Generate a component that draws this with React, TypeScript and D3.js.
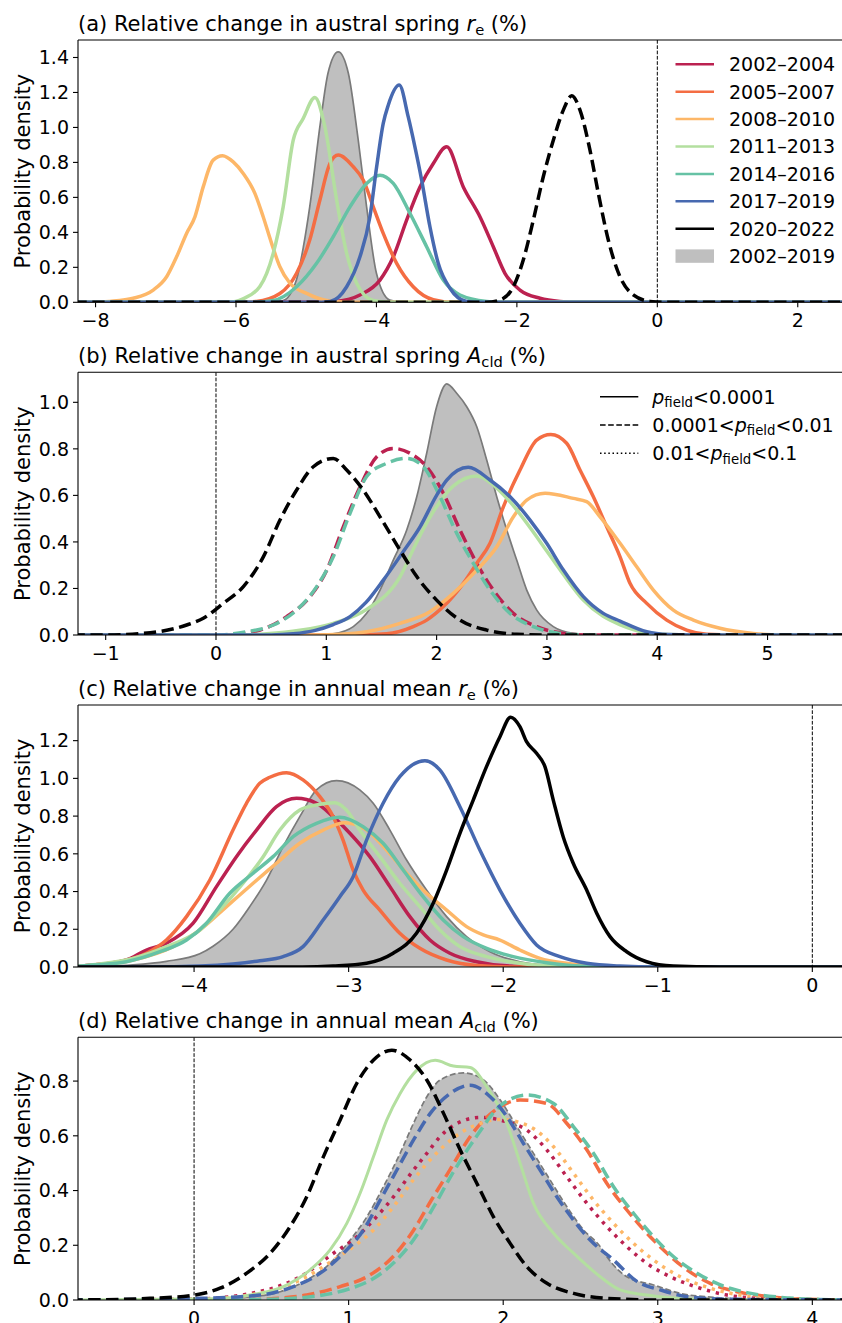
import React from "react";
import * as d3 from "d3";

type P = [number, number][];

const periods = ["2002–2004", "2005–2007", "2008–2010", "2011–2013", "2014–2016", "2017–2019", "2020–2022"];
const colors = ["#bb2150", "#f46d43", "#fdb768", "#b3df9f", "#66c2a5", "#4769b0", "#000000"];
const allPeriodLabel = "2002–2019";

// ---------- panel (a): austral spring r_e ----------
const aXTicks = [-8, -6, -4, -2, 0, 2];
const aYTicks = [0, 0.2, 0.4, 0.6, 0.8, 1.0, 1.2, 1.4];
const aStyles = ["solid", "solid", "solid", "solid", "solid", "solid", "dashed"];
const a2002: P = [[-8.3,0],[-4.8,0],[-4.57,0.005],[-4.235,0.042],[-3.95,0.127],[-3.76,0.26],[-3.57,0.47],[-3.38,0.66],[-3.19,0.794],[-3.0,0.889],[-2.763,0.66],[-2.526,0.489],[-2.336,0.318],[-2.17,0.166],[-1.956,0.07],[-1.671,0.023],[-1.386,0.005],[-1.1,0],[2.7,0]];
const a2005: P = [[-8.3,0],[-6.0,0],[-5.71,0.005],[-5.375,0.05],[-5.137,0.166],[-4.95,0.356],[-4.805,0.585],[-4.662,0.794],[-4.544,0.842],[-4.33,0.775],[-4.188,0.699],[-4.045,0.546],[-3.903,0.394],[-3.712,0.223],[-3.476,0.089],[-3.19,0.015],[-2.9,0],[2.7,0]];
const a2008: P = [[-8.3,0],[-8.0,0],[-7.796,0.005],[-7.464,0.023],[-7.179,0.07],[-6.988,0.146],[-6.846,0.26],[-6.704,0.394],[-6.585,0.489],[-6.467,0.66],[-6.325,0.813],[-6.191,0.838],[-6.04,0.803],[-5.897,0.737],[-5.731,0.623],[-5.613,0.489],[-5.493,0.337],[-5.375,0.203],[-5.232,0.109],[-4.994,0.051],[-4.71,0.01],[-4.4,0],[2.7,0]];
const a2011: P = [[-8.3,0],[-6.1,0],[-5.9,0.02],[-5.66,0.09],[-5.47,0.28],[-5.328,0.546],[-5.185,0.927],[-5.043,1.051],[-4.876,1.171],[-4.734,1.003],[-4.567,0.585],[-4.424,0.28],[-4.282,0.109],[-4.045,0.01],[-3.8,0],[2.7,0]];
const a2014: P = [[-8.3,0],[-5.8,0],[-5.47,0.01],[-5.137,0.089],[-4.852,0.223],[-4.615,0.375],[-4.377,0.546],[-4.14,0.68],[-3.95,0.727],[-3.76,0.68],[-3.523,0.509],[-3.285,0.318],[-3.048,0.127],[-2.81,0.042],[-2.43,0.005],[-2.2,0],[2.7,0]];
const a2017: P = [[-8.3,0],[-4.9,0],[-4.66,0.005],[-4.424,0.089],[-4.235,0.26],[-4.093,0.489],[-3.997,0.775],[-3.903,1.023],[-3.832,1.127],[-3.675,1.242],[-3.547,1.06],[-3.452,0.889],[-3.356,0.699],[-3.238,0.432],[-3.12,0.223],[-2.953,0.08],[-2.715,0.005],[-2.5,0],[2.7,0]];
const a2020: P = [[-8.3,0],[-2.43,0],[-2.241,0.013],[-2.051,0.089],[-1.909,0.242],[-1.766,0.47],[-1.624,0.718],[-1.481,0.927],[-1.339,1.099],[-1.219,1.181],[-1.101,1.099],[-0.959,0.87],[-0.84,0.623],[-0.698,0.356],[-0.531,0.146],[-0.342,0.042],[-0.104,0.005],[0.1,0],[2.7,0]];
const aAll: P = [[-8.3,0],[-5.6,0],[-5.33,0.01],[-5.14,0.127],[-5.04,0.318],[-4.95,0.546],[-4.8,1.02],[-4.69,1.31],[-4.544,1.432],[-4.4,1.31],[-4.26,0.93],[-4.14,0.546],[-4.0,0.166],[-3.81,0.013],[-3.6,0],[2.7,0]];

// ---------- panel (b): austral spring A_cld ----------
const bXTicks = [-1, 0, 1, 2, 3, 4, 5];
const bYTicks = [0, 0.2, 0.4, 0.6, 0.8, 1.0];
const bStyles = ["dashed", "solid", "solid", "solid", "dashed", "solid", "dashed"];
const b2002: P = [[-1.3,0],[0.0,0],[0.157,0.003],[0.399,0.021],[0.641,0.079],[0.852,0.165],[1.004,0.279],[1.154,0.465],[1.306,0.637],[1.457,0.766],[1.607,0.802],[1.759,0.781],[1.91,0.723],[2.061,0.609],[2.212,0.451],[2.364,0.308],[2.514,0.193],[2.695,0.093],[2.908,0.036],[3.149,0.007],[3.4,0],[5.7,0]];
const b2005: P = [[-1.3,0],[1.3,0],[1.547,0.005],[1.789,0.036],[1.91,0.064],[2.061,0.122],[2.242,0.222],[2.364,0.308],[2.484,0.394],[2.605,0.551],[2.756,0.709],[2.907,0.838],[3.035,0.862],[3.179,0.824],[3.3,0.709],[3.421,0.594],[3.542,0.465],[3.663,0.336],[3.753,0.222],[3.905,0.136],[4.086,0.064],[4.267,0.021],[4.448,0.003],[4.7,0],[5.7,0]];
const b2008: P = [[-1.3,0],[0.9,0],[1.13,0.003],[1.366,0.014],[1.668,0.05],[1.94,0.1],[2.151,0.179],[2.364,0.279],[2.545,0.379],[2.696,0.508],[2.817,0.58],[2.983,0.609],[3.24,0.587],[3.36,0.573],[3.482,0.508],[3.663,0.394],[3.814,0.293],[3.965,0.193],[4.146,0.107],[4.328,0.064],[4.569,0.029],[4.871,0.007],[5.1,0],[5.7,0]];
const b2011: P = [[-1.3,0],[0.2,0],[0.46,0.005],[0.76,0.02],[1.063,0.05],[1.366,0.11],[1.668,0.25],[1.82,0.4],[1.97,0.53],[2.15,0.64],[2.364,0.683],[2.5,0.65],[2.67,0.57],[2.85,0.46],[3.0,0.36],[3.15,0.26],[3.33,0.15],[3.51,0.08],[3.66,0.045],[3.9,0.01],[4.1,0.002],[4.3,0],[5.7,0]];
const b2014: P = [[-1.3,0],[0.0,0],[0.278,0.014],[0.52,0.043],[0.731,0.107],[0.913,0.208],[1.063,0.336],[1.215,0.523],[1.366,0.681],[1.547,0.738],[1.729,0.759],[1.88,0.723],[2.031,0.594],[2.182,0.437],[2.333,0.308],[2.484,0.193],[2.666,0.093],[2.877,0.036],[3.119,0.007],[3.4,0],[5.7,0]];
const b2017: P = [[-1.3,0],[0.5,0],[0.7,0.005],[0.9,0.02],[1.063,0.045],[1.215,0.079],[1.36,0.14],[1.517,0.236],[1.7,0.36],[1.85,0.465],[2.0,0.6],[2.092,0.666],[2.287,0.721],[2.484,0.666],[2.666,0.594],[2.847,0.494],[2.998,0.394],[3.149,0.279],[3.33,0.165],[3.511,0.093],[3.663,0.06],[3.905,0.014],[4.1,0.002],[4.3,0],[5.7,0]];
const b2020: P = [[-1.3,0],[-1.0,0],[-0.659,0.007],[-0.266,0.043],[-0.115,0.072],[0.066,0.136],[0.248,0.208],[0.429,0.336],[0.58,0.494],[0.731,0.623],[0.882,0.723],[1.063,0.759],[1.185,0.709],[1.335,0.623],[1.487,0.508],[1.668,0.365],[1.82,0.251],[2.0,0.15],[2.212,0.064],[2.454,0.021],[2.726,0.003],[3.0,0],[5.7,0]];
const bAll: P = [[-1.3,0],[0.9,0],[1.06,0.005],[1.245,0.036],[1.366,0.093],[1.487,0.193],[1.607,0.322],[1.729,0.451],[1.82,0.594],[1.91,0.781],[2.0,0.981],[2.092,1.079],[2.182,1.039],[2.273,0.981],[2.364,0.895],[2.454,0.752],[2.545,0.594],[2.636,0.451],[2.726,0.322],[2.817,0.193],[2.908,0.107],[3.058,0.036],[3.24,0.007],[3.45,0],[5.7,0]];

// ---------- panel (c): annual mean r_e ----------
const cXTicks = [-4, -3, -2, -1, 0];
const cYTicks = [0, 0.2, 0.4, 0.6, 0.8, 1.0, 1.2];
const cStyles = ["solid", "solid", "solid", "solid", "solid", "solid", "solid"];
const c2002: P = [[-4.8,0],[-4.61,0.014],[-4.438,0.037],[-4.308,0.09],[-4.179,0.126],[-4.006,0.232],[-3.855,0.426],[-3.726,0.585],[-3.596,0.726],[-3.467,0.85],[-3.337,0.894],[-3.208,0.868],[-3.1,0.797],[-2.992,0.709],[-2.863,0.585],[-2.733,0.426],[-2.604,0.267],[-2.474,0.143],[-2.345,0.073],[-2.172,0.028],[-1.978,0.006],[-1.7,0],[0.25,0]];
const c2005: P = [[-4.8,0],[-4.654,0.01],[-4.481,0.028],[-4.308,0.073],[-4.179,0.143],[-4.049,0.267],[-3.898,0.461],[-3.748,0.726],[-3.661,0.868],[-3.575,0.974],[-3.51,1.006],[-3.402,1.03],[-3.295,0.992],[-3.186,0.903],[-3.1,0.797],[-3.036,0.673],[-2.971,0.514],[-2.906,0.408],[-2.798,0.302],[-2.669,0.179],[-2.539,0.099],[-2.366,0.037],[-2.172,0.008],[-1.9,0],[0.25,0]];
const c2008: P = [[-4.8,0],[-4.61,0.01],[-4.395,0.037],[-4.136,0.108],[-3.963,0.196],[-3.79,0.32],[-3.618,0.444],[-3.467,0.55],[-3.316,0.656],[-3.165,0.726],[-3.025,0.765],[-2.884,0.726],[-2.755,0.62],[-2.625,0.497],[-2.496,0.391],[-2.366,0.302],[-2.237,0.214],[-2.129,0.17],[-2.021,0.143],[-1.892,0.09],[-1.762,0.046],[-1.59,0.02],[-1.374,0.005],[-1.1,0],[0.25,0]];
const c2011: P = [[-4.8,0],[-4.61,0.016],[-4.395,0.046],[-4.179,0.108],[-3.963,0.196],[-3.834,0.302],[-3.683,0.444],[-3.553,0.585],[-3.445,0.726],[-3.316,0.832],[-3.208,0.859],[-3.089,0.871],[-3.014,0.832],[-2.928,0.726],[-2.798,0.585],[-2.669,0.444],[-2.539,0.32],[-2.41,0.196],[-2.28,0.108],[-2.107,0.055],[-1.892,0.02],[-1.68,0.005],[-1.4,0],[0.25,0]];
const c2014: P = [[-4.8,0],[-4.654,0.01],[-4.438,0.028],[-4.22,0.081],[-4.049,0.143],[-3.92,0.232],[-3.769,0.391],[-3.618,0.497],[-3.489,0.585],[-3.359,0.691],[-3.208,0.762],[-3.057,0.794],[-2.906,0.744],[-2.777,0.656],[-2.647,0.514],[-2.518,0.373],[-2.388,0.249],[-2.259,0.161],[-2.107,0.099],[-1.935,0.055],[-1.719,0.023],[-1.504,0.005],[-1.2,0],[0.25,0]];
const c2017: P = [[-4.8,0],[-4.3,0],[-3.963,0.005],[-3.748,0.016],[-3.575,0.033],[-3.424,0.055],[-3.295,0.108],[-3.165,0.249],[-3.057,0.373],[-2.971,0.479],[-2.884,0.673],[-2.777,0.868],[-2.669,1.009],[-2.506,1.094],[-2.41,1.045],[-2.28,0.85],[-2.151,0.62],[-2.021,0.408],[-1.892,0.232],[-1.784,0.117],[-1.633,0.055],[-1.46,0.02],[-1.245,0.005],[-1.0,0],[0.25,0]];
const c2020: P = [[-4.8,0],[-3.3,0],[-3.1,0.005],[-2.884,0.02],[-2.712,0.073],[-2.561,0.179],[-2.453,0.338],[-2.366,0.514],[-2.28,0.709],[-2.194,0.885],[-2.108,1.062],[-2.021,1.221],[-1.952,1.324],[-1.892,1.274],[-1.849,1.195],[-1.784,1.133],[-1.73,1.062],[-1.676,0.885],[-1.612,0.691],[-1.547,0.55],[-1.46,0.408],[-1.395,0.285],[-1.309,0.161],[-1.201,0.081],[-1.072,0.028],[-0.9,0.005],[-0.6,0],[0.25,0]];
const cAll: P = [[-4.8,0],[-4.61,0.003],[-4.395,0.011],[-4.179,0.03],[-3.963,0.07],[-3.877,0.11],[-3.748,0.2],[-3.64,0.32],[-3.531,0.461],[-3.424,0.638],[-3.316,0.797],[-3.208,0.939],[-3.078,0.988],[-2.928,0.939],[-2.841,0.868],[-2.733,0.726],[-2.625,0.567],[-2.496,0.408],[-2.366,0.267],[-2.237,0.161],[-2.086,0.081],[-1.892,0.028],[-1.676,0.008],[-1.4,0],[0.25,0]];

// ---------- panel (d): annual mean A_cld ----------
const dXTicks = [0, 1, 2, 3, 4];
const dYTicks = [0, 0.2, 0.4, 0.6, 0.8];
const dStyles = ["dotted", "dashed", "dotted", "solid", "dashed", "dashed", "dashed"];
const d2002: P = [[-0.8,0],[0.0,0.003],[0.47,0.037],[0.686,0.085],[0.902,0.171],[1.053,0.231],[1.161,0.292],[1.29,0.377],[1.42,0.475],[1.506,0.536],[1.592,0.597],[1.722,0.651],[1.851,0.667],[2.024,0.651],[2.153,0.621],[2.283,0.548],[2.412,0.45],[2.542,0.353],[2.671,0.268],[2.8,0.195],[2.929,0.134],[3.081,0.085],[3.275,0.043],[3.448,0.018],[3.73,0.004],[4.25,0]];
const d2005: P = [[-0.8,0],[0.3,0.001],[0.5,0.005],[0.729,0.018],[0.945,0.049],[1.118,0.085],[1.29,0.16],[1.42,0.255],[1.53,0.36],[1.66,0.48],[1.79,0.6],[1.94,0.69],[2.11,0.731],[2.283,0.718],[2.412,0.645],[2.542,0.548],[2.671,0.426],[2.8,0.329],[2.93,0.244],[3.06,0.171],[3.189,0.11],[3.34,0.061],[3.513,0.03],[3.728,0.012],[3.94,0.003],[4.25,0]];
const d2008: P = [[-0.8,0],[0.0,0.002],[0.47,0.03],[0.686,0.073],[0.902,0.146],[1.031,0.195],[1.161,0.256],[1.29,0.341],[1.42,0.44],[1.592,0.55],[1.722,0.61],[1.851,0.645],[1.981,0.66],[2.175,0.633],[2.326,0.56],[2.455,0.463],[2.584,0.365],[2.714,0.28],[2.843,0.207],[2.973,0.146],[3.146,0.085],[3.34,0.043],[3.534,0.018],[3.79,0.004],[4.25,0]];
const d2011: P = [[-0.8,0],[0.15,0.005],[0.362,0.018],[0.578,0.049],[0.751,0.11],[0.88,0.183],[0.988,0.28],[1.074,0.39],[1.161,0.524],[1.247,0.658],[1.333,0.755],[1.441,0.84],[1.56,0.876],[1.678,0.855],[1.786,0.85],[1.894,0.779],[2.024,0.645],[2.11,0.499],[2.196,0.353],[2.326,0.244],[2.455,0.171],[2.628,0.085],[2.757,0.037],[2.973,0.015],[3.19,0.005],[3.5,0],[4.25,0]];
const d2014: P = [[-0.8,0],[0.4,0.002],[0.6,0.005],[0.8,0.015],[1.0,0.04],[1.15,0.075],[1.29,0.135],[1.42,0.22],[1.55,0.34],[1.68,0.47],[1.83,0.6],[1.981,0.71],[2.153,0.749],[2.326,0.718],[2.455,0.633],[2.584,0.536],[2.714,0.414],[2.843,0.317],[2.973,0.231],[3.103,0.158],[3.254,0.098],[3.405,0.055],[3.577,0.027],[3.793,0.01],[4.05,0.002],[4.25,0]];
const d2017: P = [[-0.8,0],[0.04,0.006],[0.427,0.018],[0.643,0.049],[0.816,0.098],[0.966,0.171],[1.096,0.256],[1.204,0.365],[1.312,0.475],[1.419,0.584],[1.528,0.682],[1.657,0.755],[1.786,0.785],[1.916,0.743],[2.024,0.67],[2.131,0.572],[2.239,0.475],[2.347,0.377],[2.455,0.292],[2.563,0.219],[2.714,0.146],[2.865,0.068],[3.016,0.037],[3.19,0.012],[3.44,0.003],[4.25,0]];
const d2020: P = [[-0.8,0],[-0.61,0.001],[-0.285,0.006],[0.0,0.018],[0.168,0.043],[0.341,0.098],[0.492,0.171],[0.621,0.268],[0.729,0.377],[0.837,0.524],[0.945,0.658],[1.053,0.792],[1.161,0.877],[1.279,0.913],[1.398,0.877],[1.506,0.804],[1.614,0.682],[1.722,0.548],[1.83,0.426],[1.937,0.304],[2.045,0.207],[2.153,0.122],[2.283,0.061],[2.455,0.024],[2.671,0.006],[3.0,0],[4.25,0]];
const dAll: P = [[-0.8,0],[0.1,0.002],[0.341,0.01],[0.557,0.03],[0.729,0.073],[0.88,0.134],[1.01,0.219],[1.118,0.304],[1.225,0.414],[1.333,0.536],[1.419,0.645],[1.506,0.743],[1.592,0.804],[1.743,0.83],[1.873,0.804],[1.981,0.731],[2.089,0.633],[2.196,0.536],[2.304,0.438],[2.412,0.341],[2.52,0.256],[2.628,0.195],[2.671,0.158],[2.8,0.085],[2.973,0.055],[3.146,0.024],[3.361,0.01],[3.63,0.002],[4.25,0]];

const pLegendLabels = [["", "<0.0001"], ["0.0001<", "<0.01"], ["0.01<", "<0.1"]];
const pLegendStyles = ["solid", "dashed", "dotted"];

const W = 842;
const H = 1323;
const FONT = "'DejaVu Sans', sans-serif";
const LEFT = 78;
const RIGHT = 842;
const TICK_FS = 19;
const LABEL_FS = 21;
const LW = 3.5;

const dashFor = (style: string, lw: number) =>
  style === "dashed" ? `${3.5 * lw},${1.6 * lw}` : style === "dotted" ? `${0.95 * lw},${1.65 * lw}` : undefined;

type PanelCfg = {
  id: string;
  top: number;
  bottom: number;
  xDomain: [number, number];
  yMax: number;
  xTicks: number[];
  yTicks: number[];
  series: P[];
  styles: string[];
  all: P;
  allStyle: string;
  titleText: string;
  symbol: string;
  sub: string;
};

const panelCfgs: PanelCfg[] = [
  { id: "a", top: 40, bottom: 302.3, xDomain: [-8.25, 2.63], yMax: 1.5, xTicks: aXTicks, yTicks: aYTicks,
    series: [a2002, a2005, a2008, a2011, a2014, a2017, a2020], styles: aStyles, all: aAll, allStyle: "solid",
    titleText: "(a) Relative change in austral spring ", symbol: "r", sub: "e" },
  { id: "b", top: 372.3, bottom: 635, xDomain: [-1.251, 5.675], yMax: 1.129, xTicks: bXTicks, yTicks: bYTicks,
    series: [b2002, b2005, b2008, b2011, b2014, b2017, b2020], styles: bStyles, all: bAll, allStyle: "solid",
    titleText: "(b) Relative change in austral spring ", symbol: "A", sub: "cld" },
  { id: "c", top: 705, bottom: 967, xDomain: [-4.751, 0.192], yMax: 1.389, xTicks: cXTicks, yTicks: cYTicks,
    series: [c2002, c2005, c2008, c2011, c2014, c2017, c2020], styles: cStyles, all: cAll, allStyle: "solid",
    titleText: "(c) Relative change in annual mean ", symbol: "r", sub: "e" },
  { id: "d", top: 1037.3, bottom: 1300, xDomain: [-0.751, 4.192], yMax: 0.96, xTicks: dXTicks, yTicks: dYTicks,
    series: [d2002, d2005, d2008, d2011, d2014, d2017, d2020], styles: dStyles, all: dAll, allStyle: "dashed",
    titleText: "(d) Relative change in annual mean ", symbol: "A", sub: "cld" },
];

const fmtTick = (v: number) => (v < 0 ? "\u2212" + Math.abs(v) : String(v));
const fmtY = (v: number) => v.toFixed(1);

function Panel({ cfg }: { cfg: PanelCfg }) {
  const x = d3.scaleLinear().domain(cfg.xDomain).range([LEFT, RIGHT]);
  const y = d3.scaleLinear().domain([0, cfg.yMax]).range([cfg.bottom, cfg.top]);
  const line = d3.line<[number, number]>().x((d) => x(d[0])).y((d) => y(d[1])).curve(d3.curveMonotoneX);
  const area = d3.area<[number, number]>().x((d) => x(d[0])).y0(y(0)).y1((d) => y(d[1])).curve(d3.curveMonotoneX);
  const clipId = `clip-${cfg.id}`;
  const subFs = LABEL_FS * 0.7;
  return (
    <g>
      <defs>
        <clipPath id={clipId}>
          <rect x={LEFT} y={cfg.top} width={RIGHT - LEFT + 2} height={cfg.bottom - cfg.top} />
        </clipPath>
      </defs>
      <g clipPath={`url(#${clipId})`}>
        <path d={area(cfg.all) || ""} fill="#bfbfbf" stroke="none" />
        <path d={line(cfg.all) || ""} fill="none" stroke="#7a7a7a" strokeWidth={1.7}
          strokeDasharray={dashFor(cfg.allStyle, 1.7)} />
        {cfg.series.map((s, i) => {
          const lw = cfg.id === "d" && cfg.styles[i] === "solid" ? 3 : LW;
          return (
            <path key={i} d={line(s) || ""} fill="none" stroke={colors[i]} strokeWidth={lw}
              strokeDasharray={dashFor(cfg.styles[i], lw)} strokeLinejoin="round" />
          );
        })}
        <line x1={x(0)} x2={x(0)} y1={cfg.top} y2={cfg.bottom} stroke="#000" strokeWidth={1}
          strokeDasharray="3.7,1.6" />
      </g>
      {/* spines */}
      <line x1={LEFT} x2={LEFT} y1={cfg.top} y2={cfg.bottom} stroke="#000" strokeWidth={1.1} />
      <line x1={LEFT} x2={RIGHT} y1={cfg.top} y2={cfg.top} stroke="#000" strokeWidth={1.1} />
      <line x1={LEFT} x2={RIGHT} y1={cfg.bottom} y2={cfg.bottom} stroke="#000" strokeWidth={1.1} />
      {/* x ticks */}
      {cfg.xTicks.map((t) => (
        <g key={"x" + t}>
          <line x1={x(t)} x2={x(t)} y1={cfg.bottom} y2={cfg.bottom + 5} stroke="#000" strokeWidth={1.1} />
          <text x={x(t)} y={cfg.bottom + 25} textAnchor="middle" fontSize={TICK_FS} fontFamily={FONT}>
            {fmtTick(t)}
          </text>
        </g>
      ))}
      {/* y ticks */}
      {cfg.yTicks.map((t) => (
        <g key={"y" + t}>
          <line x1={LEFT - 5} x2={LEFT} y1={y(t)} y2={y(t)} stroke="#000" strokeWidth={1.1} />
          <text x={LEFT - 9} y={y(t)} dy="0.36em" textAnchor="end" fontSize={TICK_FS} fontFamily={FONT}>
            {fmtY(t)}
          </text>
        </g>
      ))}
      {/* y label */}
      <text transform={`translate(29.5,${(cfg.top + cfg.bottom) / 2}) rotate(-90)`} textAnchor="middle"
        fontSize={LABEL_FS} fontFamily={FONT}>
        Probability density
      </text>
      {/* title */}
      <text x={LEFT} y={cfg.top - 9} fontSize={LABEL_FS} fontFamily={FONT}>
        {cfg.titleText}
        <tspan fontStyle="italic">{cfg.symbol}</tspan>
        <tspan fontSize={subFs} dy={4}>{cfg.sub}</tspan>
        <tspan dy={-4}>{" (%)"}</tspan>
      </text>
    </g>
  );
}

function LegendA() {
  const x0 = 675.5, x1 = 714, tx = 729, y0 = 64.3, dy = 27.4;
  return (
    <g>
      {periods.map((p, i) => (
        <g key={p}>
          <line x1={x0} x2={x1} y1={y0 + i * dy} y2={y0 + i * dy} stroke={colors[i]} strokeWidth={2.5} />
          <text x={tx} y={y0 + i * dy} dy="0.36em" fontSize={TICK_FS} fontFamily={FONT}>{p}</text>
        </g>
      ))}
      <rect x={x0} y={y0 + 7 * dy - 6.7} width={x1 - x0} height={13.4} fill="#bfbfbf" />
      <text x={tx} y={y0 + 7 * dy} dy="0.36em" fontSize={TICK_FS} fontFamily={FONT}>{allPeriodLabel}</text>
    </g>
  );
}

function LegendB() {
  const x0 = 600, x1 = 638.3, tx = 652.3, y0 = 396.7, dy = 28.3;
  const subFs = TICK_FS * 0.7;
  return (
    <g>
      {pLegendLabels.map((lab, i) => (
        <g key={i}>
          <line x1={x0} x2={x1} y1={y0 + i * dy} y2={y0 + i * dy} stroke="#000" strokeWidth={1.6}
            strokeDasharray={dashFor(pLegendStyles[i], 1.6)} />
          <text x={tx} y={y0 + i * dy} dy="0.36em" fontSize={TICK_FS} fontFamily={FONT}>
            {lab[0]}
            <tspan fontStyle="italic">p</tspan>
            <tspan fontSize={subFs} dy={3.5}>field</tspan>
            <tspan dy={-3.5}>{lab[1]}</tspan>
          </text>
        </g>
      ))}
    </g>
  );
}

export default function App() {
  return (
    <svg width={W} height={H} viewBox={`0 0 ${W} ${H}`}
      style={{ position: "absolute", left: 0, top: 0, background: "#fff" }}>
      <rect x={0} y={0} width={W} height={H} fill="#fff" />
      {panelCfgs.map((c) => (
        <Panel key={c.id} cfg={c} />
      ))}
      <LegendA />
      <LegendB />
    </svg>
  );
}
